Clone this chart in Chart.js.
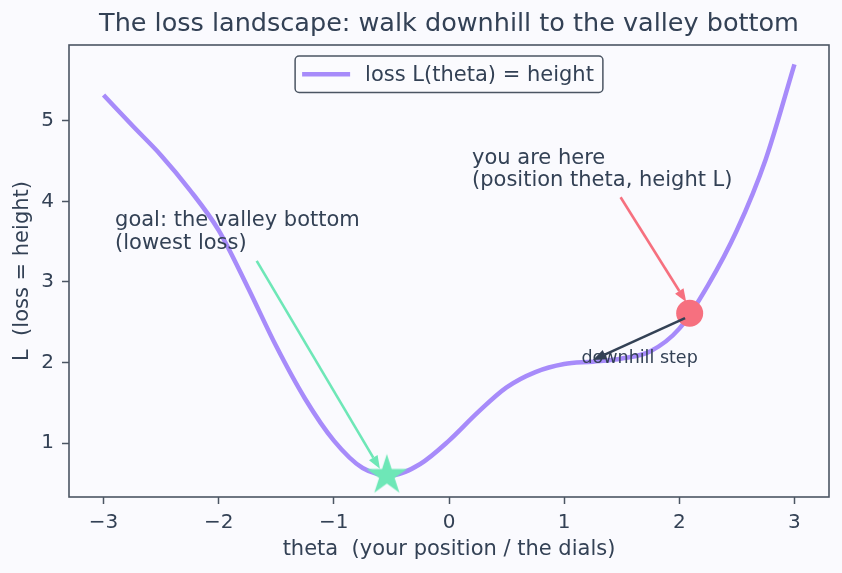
<!DOCTYPE html>
<html lang="en">
<head>
<meta charset="UTF-8">
<title>The loss landscape</title>
<script src="https://cdn.jsdelivr.net/npm/chart.js"></script>
<style>
  html, body { margin: 0; padding: 0; background: #fafafe; }
  #wrap { width: 842px; height: 573px; }
</style>
</head>
<body>
<div id="wrap"><canvas id="lossChart" width="842" height="573"></canvas></div>
<script>
// curve, step 0.25
const thetas = [-3, -2.75, -2.5, -2.25, -2, -1.75, -1.5, -1.25, -1, -0.75, -0.5, -0.25,
                0, 0.25, 0.5, 0.75, 1, 1.25, 1.5, 1.75, 2, 2.25, 2.5, 2.75, 3];
const loss = [5.32, 4.94, 4.57, 4.14, 3.64, 2.94, 2.20, 1.55, 1.03, 0.69, 0.60, 0.74,
              1.03, 1.38, 1.69, 1.88, 1.98, 2.01, 2.05, 2.14, 2.42, 2.96, 3.64, 4.52, 5.70];

const xTicks = [-3, -2, -1, 0, 1, 2, 3];
const yTicks = [1, 2, 3, 4, 5];
const xRange = [-3.3, 3.3];
const yRange = [0.33, 5.94];

// markers
const goalPoint = [-0.54, 0.61];
const herePoint = [2.09, 2.61];

// annotations: arrows (from -> to) and text (anchor = left, baseline of last line)
const goalArrow = [[-1.67, 3.26], [-0.6, 0.68]];
const hereArrow = [[1.49, 4.05], [2.06, 2.75]];
const stepArrow = [[2.05, 2.55], [1.25, 2.03]];
const goalText = ['goal: the valley bottom', '(lowest loss)'];
const goalTextAt = [-2.9, 3.41];
const hereText = ['you are here', '(position theta, height L)'];
const hereTextAt = [0.2, 4.19];
const stepText = ['downhill step'];
const stepTextAt = [1.15, 1.99];

const titleText = 'The loss landscape: walk downhill to the valley bottom';

const FONT = "'DejaVu Sans', sans-serif";
const INK = '#334155';
const FRAME = '#4b5563';
const PURPLE = '#a78bfa';
const GREEN = '#6ee7b7';
const RED = '#f6707f';

Chart.defaults.font.family = FONT;
Chart.defaults.color = INK;

// filled five-point star for the goal marker
function makeStar(R, fill) {
  const c = document.createElement('canvas');
  const s = Math.ceil(R * 2 + 4);
  c.width = s; c.height = s;
  const g = c.getContext('2d');
  g.translate(s / 2, s / 2 + 1);
  g.beginPath();
  for (let i = 0; i < 10; i++) {
    const r = i % 2 ? R * 0.382 : R;
    const a = -Math.PI / 2 + i * Math.PI / 5;
    g.lineTo(r * Math.cos(a), r * Math.sin(a));
  }
  g.closePath();
  g.fillStyle = fill;
  g.strokeStyle = fill;
  g.lineWidth = 1.5;
  g.fill();
  g.stroke();
  return c;
}

function drawArrow(ctx, a, b, color) {
  const ang = Math.atan2(b[1] - a[1], b[0] - a[0]);
  const hl = 13, hw = 5;
  const bx = b[0] - hl * Math.cos(ang), by = b[1] - hl * Math.sin(ang);
  ctx.save();
  ctx.strokeStyle = color;
  ctx.fillStyle = color;
  ctx.lineWidth = 2.6;
  ctx.beginPath();
  ctx.moveTo(a[0], a[1]);
  ctx.lineTo(bx, by);
  ctx.stroke();
  ctx.beginPath();
  ctx.moveTo(b[0], b[1]);
  ctx.lineTo(bx + hw * Math.sin(ang), by - hw * Math.cos(ang));
  ctx.lineTo(bx - hw * Math.sin(ang), by + hw * Math.cos(ang));
  ctx.closePath();
  ctx.fill();
  ctx.restore();
}

function drawNote(ctx, lines, at, size) {
  ctx.save();
  ctx.font = size + 'px ' + FONT;
  ctx.fillStyle = INK;
  ctx.textAlign = 'left';
  ctx.textBaseline = 'alphabetic';
  const step = size * 1.07;
  lines.forEach((t, i) => {
    ctx.fillText(t, at[0], at[1] - (lines.length - 1 - i) * step);
  });
  ctx.restore();
}

const overlay = {
  id: 'overlay',
  afterDatasetsDraw(chart) {
    const {ctx, scales: {x, y}} = chart;
    const px = p => [x.getPixelForValue(p[0]), y.getPixelForValue(p[1])];
    drawArrow(ctx, px(goalArrow[0]), px(goalArrow[1]), GREEN);
    drawArrow(ctx, px(hereArrow[0]), px(hereArrow[1]), RED);
    drawArrow(ctx, px(stepArrow[0]), px(stepArrow[1]), INK);
    drawNote(ctx, goalText, px(goalTextAt), 21);
    drawNote(ctx, hereText, px(hereTextAt), 21);
    drawNote(ctx, stepText, px(stepTextAt), 17.5);
  },
  afterDraw(chart) {
    const {ctx, chartArea: ca} = chart;
    const cx = (ca.left + ca.right) / 2;
    ctx.save();
    // title
    ctx.font = '25.5px ' + FONT;
    ctx.fillStyle = INK;
    ctx.textAlign = 'center';
    ctx.textBaseline = 'alphabetic';
    ctx.fillText(titleText, cx, 31);
    ctx.textAlign = 'left';
    // frame
    ctx.strokeStyle = FRAME;
    ctx.lineWidth = 1.6;
    ctx.strokeRect(ca.left, ca.top, ca.right - ca.left, ca.bottom - ca.top);
    // legend box
    const label = chart.data.datasets[0].label;
    ctx.font = '21px ' + FONT;
    const tw = ctx.measureText(label).width;
    const w = 7 + 48 + 15 + tw + 9, h = 36.5;
    const lx = cx - w / 2, ly = ca.top + 11;
    ctx.beginPath();
    ctx.roundRect(lx, ly, w, h, 4);
    ctx.fillStyle = 'rgba(250,250,254,0.85)';
    ctx.fill();
    ctx.lineWidth = 1.5;
    ctx.strokeStyle = FRAME;
    ctx.stroke();
    ctx.beginPath();
    ctx.moveTo(lx + 7, ly + h / 2);
    ctx.lineTo(lx + 55, ly + h / 2);
    ctx.lineWidth = 4.5;
    ctx.strokeStyle = PURPLE;
    ctx.stroke();
    ctx.fillStyle = INK;
    ctx.textBaseline = 'middle';
    ctx.fillText(label, lx + 70, ly + h / 2 + 1);
    ctx.restore();
  }
};

const bgPlugin = {
  id: 'bg',
  beforeDraw(chart) {
    const {ctx, width, height} = chart;
    ctx.save();
    ctx.fillStyle = '#fafafe';
    ctx.fillRect(0, 0, width, height);
    ctx.restore();
  }
};

const ctx = document.getElementById('lossChart').getContext('2d');
const lossChart = new Chart(ctx, {
  type: 'line',
  data: {
    datasets: [
      {
        label: 'loss L(theta) = height',
        data: thetas.map((t, i) => ({x: t, y: loss[i]})),
        borderColor: PURPLE,
        borderWidth: 4.5,
        pointRadius: 0,
        cubicInterpolationMode: 'monotone',
        fill: false,
        order: 3
      },
      {
        label: 'goal',
        data: [{x: goalPoint[0], y: goalPoint[1]}],
        showLine: false,
        pointStyle: makeStar(19, GREEN),
        pointRadius: 18,
        order: 2
      },
      {
        label: 'here',
        data: [{x: herePoint[0], y: herePoint[1]}],
        showLine: false,
        pointStyle: 'circle',
        pointRadius: 13.5,
        pointBackgroundColor: RED,
        pointBorderColor: RED,
        pointBorderWidth: 0,
        order: 1
      }
    ]
  },
  options: {
    responsive: false,
    devicePixelRatio: 1,
    animation: false,
    layout: { autoPadding: false, padding: { top: 45, right: 13, left: 0, bottom: 0 } },
    plugins: {
      legend: { display: false },
      tooltip: { enabled: false },
      title: { display: false }
    },
    scales: {
      x: {
        type: 'linear',
        min: xRange[0],
        max: xRange[1],
        afterBuildTicks: s => { s.ticks = xTicks.map(v => ({value: v})); },
        afterFit: s => { s.height = 76; s.paddingLeft = 0; s.paddingRight = 0; },
        border: { display: false },
        grid: { drawOnChartArea: false, drawTicks: true, tickLength: 7, color: FRAME, tickWidth: 1.5 },
        ticks: {
          font: { size: 20 },
          color: INK,
          padding: 7,
          maxRotation: 0,
          callback: v => (v < 0 ? '\u2212' + Math.abs(v) : String(v))
        },
        title: {
          display: true,
          text: 'theta  (your position / the dials)',
          font: { size: 21 },
          color: INK,
          padding: { top: 11, bottom: 11 }
        }
      },
      y: {
        type: 'linear',
        min: yRange[0],
        max: yRange[1],
        afterBuildTicks: s => { s.ticks = yTicks.map(v => ({value: v})); },
        afterFit: s => { s.width = 69; s.paddingTop = 0; s.paddingBottom = 0; },
        border: { display: false },
        grid: { drawOnChartArea: false, drawTicks: true, tickLength: 7, color: FRAME, tickWidth: 1.5 },
        ticks: { font: { size: 20 }, color: INK, padding: 8 },
        title: {
          display: true,
          text: 'L  (loss = height)',
          font: { size: 21 },
          color: INK,
          padding: { top: 10, bottom: 10 }
        }
      }
    }
  },
  plugins: [bgPlugin, overlay]
});
</script>
</body>
</html>
